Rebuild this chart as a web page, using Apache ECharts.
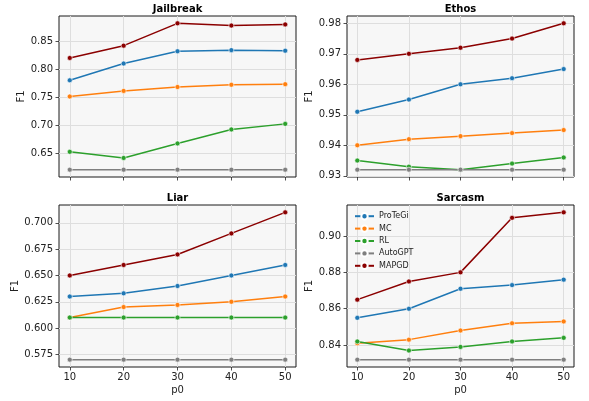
<!DOCTYPE html>
<html>
<head>
<meta charset="utf-8">
<script src="https://cdn.jsdelivr.net/npm/echarts@6/dist/echarts.min.js"></script>
<style>html,body{margin:0;padding:0;background:#fff}#c{width:589px;height:401px}</style>
</head>
<body>
<div id="c"></div>
<script>
const p0 = [10, 20, 30, 40, 50];
const methods = ['ProTeGi', 'MC', 'RL', 'AutoGPT', 'MAPGD'];
const colors = ['#1f77b4', '#ff7f0e', '#2ca02c', '#7f7f7f', '#8b0000'];
const panels = ['Jailbreak', 'Ethos', 'Liar', 'Sarcasm'];

// Jailbreak
const jailbreakProTeGi = [0.780, 0.810, 0.832, 0.834, 0.833];
const jailbreakMC      = [0.751, 0.761, 0.768, 0.772, 0.773];
const jailbreakRL      = [0.652, 0.641, 0.667, 0.692, 0.702];
const jailbreakAutoGPT = [0.620, 0.620, 0.620, 0.620, 0.620];
const jailbreakMAPGD   = [0.820, 0.842, 0.882, 0.878, 0.880];
// Ethos
const ethosProTeGi = [0.951, 0.955, 0.960, 0.962, 0.965];
const ethosMC      = [0.940, 0.942, 0.943, 0.944, 0.945];
const ethosRL      = [0.935, 0.933, 0.932, 0.934, 0.936];
const ethosAutoGPT = [0.932, 0.932, 0.932, 0.932, 0.932];
const ethosMAPGD   = [0.968, 0.970, 0.972, 0.975, 0.980];
// Liar
const liarProTeGi = [0.630, 0.633, 0.640, 0.650, 0.660];
const liarMC      = [0.610, 0.620, 0.622, 0.625, 0.630];
const liarRL      = [0.610, 0.610, 0.610, 0.610, 0.610];
const liarAutoGPT = [0.570, 0.570, 0.570, 0.570, 0.570];
const liarMAPGD   = [0.650, 0.660, 0.670, 0.690, 0.710];
// Sarcasm
const sarcasmProTeGi = [0.855, 0.860, 0.871, 0.873, 0.876];
const sarcasmMC      = [0.841, 0.843, 0.848, 0.852, 0.853];
const sarcasmRL      = [0.842, 0.837, 0.839, 0.842, 0.844];
const sarcasmAutoGPT = [0.832, 0.832, 0.832, 0.832, 0.832];
const sarcasmMAPGD   = [0.865, 0.875, 0.880, 0.910, 0.913];

// tick labels
const jailbreakTicks = [0.65, 0.70, 0.75, 0.80, 0.85];
const ethosTicks = [0.93, 0.94, 0.95, 0.96, 0.97, 0.98];
const liarTicks = [0.575, 0.600, 0.625, 0.650, 0.675, 0.700];
const sarcasmTicks = [0.84, 0.86, 0.88, 0.90];

const panelData = [
  [jailbreakProTeGi, jailbreakMC, jailbreakRL, jailbreakAutoGPT, jailbreakMAPGD],
  [ethosProTeGi, ethosMC, ethosRL, ethosAutoGPT, ethosMAPGD],
  [liarProTeGi, liarMC, liarRL, liarAutoGPT, liarMAPGD],
  [sarcasmProTeGi, sarcasmMC, sarcasmRL, sarcasmAutoGPT, sarcasmMAPGD]
];
const panelTicks = [jailbreakTicks, ethosTicks, liarTicks, sarcasmTicks];
const panelDecimals = [2, 2, 3, 2];

// layout
const gridsPos = [
  {left: 59, top: 16, width: 237, height: 161},
  {left: 347, top: 16, width: 227, height: 161},
  {left: 59, top: 205, width: 237, height: 162},
  {left: 347, top: 205, width: 227, height: 162}
];
const titleTops = [4, 4, 193, 193];
const nameGaps = [31, 31, 38, 31];
const FONT = 'DejaVu Sans';
const ink = '#222';

function yRange(arrs) {
  let lo = Infinity, hi = -Infinity;
  arrs.forEach(a => a.forEach(v => { lo = Math.min(lo, v); hi = Math.max(hi, v); }));
  const m = (hi - lo) * 0.05;
  return [lo - m, hi + m];
}

const grid = [], xAxis = [], yAxis = [], series = [], title = [];
panels.forEach((name, i) => {
  const g = gridsPos[i];
  grid.push(Object.assign({show: true, backgroundColor: '#f7f7f7', borderColor: '#1a1a1a', borderWidth: 1, containLabel: false}, g));
  title.push({
    text: name, left: g.left + g.width / 2, top: titleTops[i], textAlign: 'center', padding: 0,
    textStyle: {fontFamily: FONT, fontSize: 10, fontWeight: 'bold', color: '#000'}
  });
  const bottomRow = i >= 2;
  xAxis.push({
    type: 'value', gridIndex: i, min: p0[0] - 2, max: p0[p0.length - 1] + 2,
    name: bottomRow ? 'p0' : '', nameLocation: 'middle', nameGap: 18,
    nameTextStyle: {fontFamily: FONT, fontSize: 10, color: ink},
    axisLine: {show: false},
    axisTick: {show: true, length: 3.5, lineStyle: {color: ink, width: 0.8}, customValues: p0},
    axisLabel: {show: bottomRow, customValues: p0, margin: 5, fontFamily: FONT, fontSize: 10, color: ink},
    splitLine: {show: true, lineStyle: {color: '#dedede', width: 1}}
  });
  const [lo, hi] = yRange(panelData[i]);
  const dec = panelDecimals[i];
  yAxis.push({
    type: 'value', gridIndex: i, min: lo, max: hi,
    name: 'F1', nameLocation: 'middle', nameGap: nameGaps[i],
    nameTextStyle: {fontFamily: FONT, fontSize: 10, color: ink},
    axisLine: {show: false},
    axisTick: {show: true, length: 3.5, lineStyle: {color: ink, width: 0.8}, customValues: panelTicks[i]},
    axisLabel: {customValues: panelTicks[i], margin: 6, fontFamily: FONT, fontSize: 10, color: ink,
      formatter: v => v.toFixed(dec)},
    splitLine: {show: true, lineStyle: {color: '#dedede', width: 1}}
  });
  methods.forEach((m, k) => {
    series.push({
      name: m, type: 'line', xAxisIndex: i, yAxisIndex: i,
      data: p0.map((x, j) => [x, panelData[i][k][j]]),
      symbol: 'circle', symbolSize: 5, showSymbol: true,
      lineStyle: {width: 1.5, color: colors[k]},
      itemStyle: {color: colors[k], borderColor: '#fff', borderWidth: 0.6},
      emphasis: {disabled: true}, animation: false, z: 2 + k
    });
  });
});

const chart = echarts.init(document.getElementById('c'), null, {renderer: 'canvas'});
chart.setOption({
  animation: false,
  backgroundColor: '#fff',
  color: colors,
  title: title,
  grid: grid,
  xAxis: xAxis,
  yAxis: yAxis,
  legend: {
    data: methods, orient: 'vertical', left: 354, top: 212, padding: 0,
    itemWidth: 19, itemHeight: 8, itemGap: 4,
    textStyle: {fontFamily: FONT, fontSize: 8, color: ink}
  },
  series: series
});
</script>
</body>
</html>
